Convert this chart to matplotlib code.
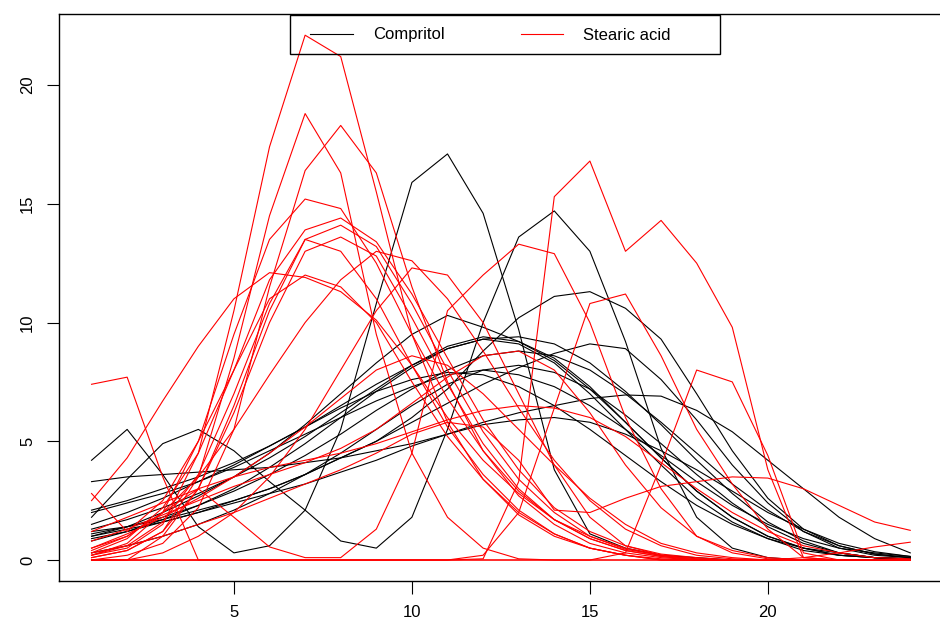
import numpy as np
import matplotlib.pyplot as plt
from matplotlib.patches import Rectangle
from matplotlib.lines import Line2D

plt.rcParams['font.family'] = ['Liberation Sans', 'DejaVu Sans']

# fraction index along the column
x = np.arange(1, 25)

# one row per Compritol run
compritol = [
    [4.2, 5.5, 3.6, 1.4, 0.3, 0.6, 2.1, 5.5, 10.8, 15.9, 17.1, 14.6, 9.7, 3.8, 1.1, 0.5, 0.2, 0.1, 0, 0, 0, 0, 0, 0],
    [1.8, 3.4, 4.9, 5.5, 4.6, 3.3, 2.1, 0.8, 0.5, 1.8, 5.5, 10.0, 13.6, 14.7, 13.0, 9.2, 4.7, 1.8, 0.5, 0.1, 0, 0, 0, 0],
    [1.2, 1.4, 1.7, 2.1, 2.5, 3.0, 3.6, 4.3, 5.0, 6.0, 7.2, 8.8, 10.2, 11.1, 11.3, 10.6, 9.3, 7.0, 4.6, 2.6, 1.3, 0.6, 0.25, 0.1],
    [1.0, 1.4, 2.0, 2.7, 3.5, 4.5, 5.7, 7.0, 8.3, 9.5, 10.3, 9.8, 9.2, 8.4, 7.2, 5.8, 4.3, 2.9, 1.8, 1.0, 0.5, 0.2, 0.1, 0.05],
    [1.3, 1.7, 2.2, 2.8, 3.5, 4.3, 5.2, 6.2, 7.2, 8.2, 9.0, 9.4, 9.2, 8.5, 7.3, 5.8, 4.3, 2.9, 1.8, 1.0, 0.5, 0.2, 0.1, 0.05],
    [0.8, 1.2, 1.7, 2.3, 3.0, 3.9, 4.9, 6.0, 7.1, 8.1, 8.9, 9.3, 9.1, 8.3, 7.0, 5.5, 4.0, 2.6, 1.6, 0.9, 0.4, 0.2, 0.1, 0.0],
    [2.0, 2.4, 2.8, 3.3, 3.9, 4.6, 5.3, 6.0, 6.7, 7.3, 7.8, 8.0, 7.8, 7.3, 6.5, 5.5, 4.4, 3.3, 2.3, 1.5, 0.9, 0.5, 0.3, 0.15],
    [1.5, 2.0, 2.6, 3.3, 4.0, 4.8, 5.6, 6.4, 7.1, 7.6, 7.9, 7.8, 7.3, 6.5, 5.5, 4.4, 3.3, 2.3, 1.5, 0.9, 0.5, 0.3, 0.1, 0.05],
    [1.0, 1.3, 1.6, 2.0, 2.4, 2.8, 3.2, 3.7, 4.2, 4.8, 5.3, 5.8, 6.2, 6.5, 6.8, 6.95, 6.9, 6.3, 5.4, 4.2, 3.0, 1.8, 0.9, 0.3],
    [3.3, 3.5, 3.6, 3.7, 3.8, 3.9, 4.1, 4.3, 4.6, 4.9, 5.3, 5.7, 5.9, 6.0, 5.8, 5.3, 4.6, 3.8, 2.9, 2.0, 1.3, 0.7, 0.35, 0.15],
    [2.1, 2.5, 3.0, 3.5, 4.1, 4.8, 5.6, 6.5, 7.4, 8.2, 8.9, 9.3, 9.4, 9.1, 8.3, 7.1, 5.7, 4.2, 2.8, 1.6, 0.8, 0.3, 0.1, 0.05],
    [1.1, 1.4, 1.8, 2.3, 2.9, 3.6, 4.4, 5.3, 6.3, 7.2, 8.0, 8.6, 8.8, 8.6, 8.0, 7.0, 5.8, 4.5, 3.2, 2.1, 1.2, 0.6, 0.25, 0.1],
    [0.3, 0.6, 1.0, 1.5, 2.1, 2.8, 3.6, 4.5, 5.5, 6.5, 7.4, 8.0, 8.2, 7.9, 7.2, 6.1, 4.9, 3.6, 2.4, 1.4, 0.7, 0.3, 0.1, 0.05],
    [0.9, 1.2, 1.6, 2.0, 2.5, 3.0, 3.6, 4.3, 5.0, 5.8, 6.6, 7.4, 8.1, 8.7, 9.1, 8.9, 7.6, 5.9, 4.0, 2.4, 1.2, 0.5, 0.2, 0.1],
]

# one row per stearic acid run
stearic = [
    [0.2, 0.5, 1.5, 4.5, 10.5, 17.4, 22.1, 21.2, 15.5, 9.5, 5.8, 3.4, 1.9, 1.0, 0.5, 0.2, 0.05, 0, 0, 0, 0, 0, 0, 0],
    [0.1, 0.4, 1.2, 3.5, 8.5, 14.5, 18.8, 16.3, 9.5, 4.5, 1.8, 0.5, 0.05, 0, 0, 0, 0, 0, 0, 0, 0, 0, 0, 0],
    [0, 0.2, 0.7, 2.2, 5.5, 11.5, 16.4, 18.3, 16.3, 11.5, 7.5, 4.6, 2.7, 1.5, 0.7, 0.3, 0.1, 0, 0, 0, 0, 0, 0, 0],
    [0.2, 0.7, 2.0, 5.0, 9.5, 13.5, 15.2, 14.8, 12.5, 9.5, 6.8, 4.6, 2.9, 1.7, 0.9, 0.4, 0.15, 0, 0, 0, 0, 0, 0, 0],
    [0.3, 0.9, 2.2, 4.5, 8.0, 11.8, 13.9, 14.4, 13.4, 11.2, 8.5, 5.9, 3.8, 2.2, 1.2, 0.6, 0.25, 0.1, 0, 0, 0, 0, 0, 0],
    [0.2, 0.6, 1.6, 3.6, 7.0, 10.8, 13.5, 14.1, 13.2, 10.8, 8.0, 5.4, 3.4, 2.0, 1.0, 0.45, 0.2, 0.05, 0, 0, 0, 0, 0, 0],
    [0.1, 0.4, 1.2, 3.0, 6.2, 10.0, 13.0, 13.6, 12.8, 10.2, 7.4, 4.9, 3.0, 1.7, 0.9, 0.4, 0.15, 0, 0, 0, 0, 0, 0, 0],
    [2.5, 4.3, 6.7, 9.0, 11.0, 12.1, 11.9, 11.3, 10.1, 8.2, 6.0, 4.2, 2.8, 1.7, 1.0, 0.5, 0.2, 0.05, 0, 0, 0, 0, 0, 0],
    [0.4, 1.0, 2.0, 3.5, 5.5, 7.8, 10.0, 11.8, 13.0, 12.6, 11.0, 8.8, 6.4, 4.2, 2.5, 1.3, 0.6, 0.2, 0.05, 0, 0, 0, 0, 0],
    [0.5, 1.0, 2.0, 3.0, 1.8, 0.55, 0.1, 0.1, 1.3, 4.5, 10.5, 12.0, 13.3, 12.9, 10.0, 6.0, 3.0, 1.0, 0.3, 0.05, 0, 0, 0, 0],
    [0, 0, 0, 0, 0, 0, 0, 0, 0, 0, 0, 0.05, 3.3, 15.3, 16.8, 13.0, 14.3, 12.5, 9.8, 3.8, 0.1, 0, 0, 0],
    [0, 0, 0, 0, 0, 0, 0, 0, 0, 0, 0, 0.2, 2.0, 6.4, 10.8, 11.2, 8.6, 5.5, 3.2, 1.3, 0.1, 0, 0, 0],
    [0, 0, 0, 0, 0, 0, 0, 0, 0, 0, 0, 0, 0, 0, 0, 0.3, 4.0, 8.0, 7.5, 4.4, 0.3, 0, 0, 0],
    [0.3, 0.6, 1.0, 1.5, 2.0, 2.6, 3.2, 3.8, 4.5, 5.3, 5.8, 5.6, 4.2, 2.1, 2.0, 2.6, 3.1, 3.3, 3.5, 3.45, 3.0, 2.3, 1.6, 1.25],
    [7.4, 7.7, 3.5, 0, 0, 0, 0, 0, 0, 0, 0, 0, 0, 0, 0, 0, 0, 0, 0, 0, 0.1, 0.3, 0.55, 0.75],
    [1.2, 1.8, 2.4, 3.0, 3.5, 3.9, 4.2, 4.5, 4.9, 5.4, 5.9, 6.3, 6.5, 6.4, 6.0, 5.2, 4.1, 3.0, 2.0, 1.2, 0.6, 0.3, 0.1, 0.05],
    [0.8, 1.3, 1.9, 2.5, 3.1, 3.6, 4.1, 4.7, 5.5, 6.6, 7.7, 8.6, 8.8, 8.0, 6.2, 4.0, 2.2, 1.0, 0.4, 0.1, 0, 0, 0, 0],
    [0.5, 1.1, 1.8, 2.6, 3.5, 4.5, 5.6, 6.8, 8.0, 8.6, 8.2, 7.0, 5.5, 4.0, 2.6, 1.5, 0.7, 0.3, 0.1, 0, 0, 0, 0, 0],
    [0, 0, 0.3, 1.0, 2.0, 3.5, 5.5, 8.0, 10.5, 12.3, 12.0, 10.0, 7.0, 4.0, 1.8, 0.6, 0.2, 0, 0, 0, 0, 0, 0, 0],
    [0, 0, 1.0, 3.0, 6.5, 10.5, 13.5, 13.0, 11.0, 8.2, 5.6, 3.6, 2.1, 1.1, 0.5, 0.2, 0, 0, 0, 0, 0, 0, 0, 0],
    [2.8, 1.2, 2.5, 5.0, 8.0, 11.0, 12.0, 11.5, 10.0, 7.5, 5.2, 3.4, 2.0, 1.1, 0.5, 0.2, 0, 0, 0, 0, 0, 0, 0, 0],
]

W, H = 940, 626
fig = plt.figure(figsize=(W / 100, H / 100), dpi=100)
ax = fig.add_axes([58.8 / W, 1 - 581 / H, 884.2 / W, 566.8 / H])

for run in compritol:
    ax.plot(x, run, color='black', lw=0.8)
for run in stearic:
    ax.plot(x, run, color='red', lw=0.8)

ymax = max(max(r) for r in compritol + stearic)
pad_x = 0.04 * (x[-1] - x[0])
ax.set_xlim(x[0] - pad_x, x[-1] + pad_x)
ax.set_ylim(-0.04 * ymax, ymax * 1.04)

ax.set_xticks([5, 10, 15, 20])
ax.set_yticks([0, 5, 10, 15, 20])
ax.tick_params(labelsize=12, length=9, width=0.8, pad=8, color='black')
for lab in ax.get_yticklabels():
    lab.set_rotation(90)
    lab.set_va('center')
for s in ax.spines.values():
    s.set_linewidth(1.0)

# legend box across the top, no fill
def fx(px):
    return px / W

def fy(py):
    return 1 - py / H

fig.add_artist(Rectangle((fx(290), fy(54)), fx(720) - fx(290), fy(14.5) - fy(54),
                         transform=fig.transFigure, fill=False, ec='black', lw=1.0))
fig.add_artist(Line2D([fx(310), fx(353)], [fy(34), fy(34)], transform=fig.transFigure,
                      color='black', lw=0.8))
fig.add_artist(Line2D([fx(521), fx(563)], [fy(34), fy(34)], transform=fig.transFigure,
                      color='red', lw=0.8))
fig.text(fx(373), fy(35), 'Compritol', fontsize=12, va='center', ha='left')
fig.text(fx(583), fy(35), 'Stearic acid', fontsize=12, va='center', ha='left')

fig.savefig('out.png', dpi=100)
